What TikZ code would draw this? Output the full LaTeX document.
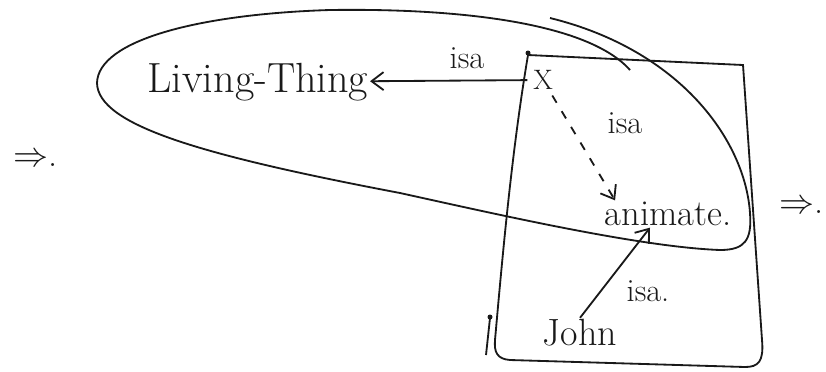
\documentclass[tikz,border=0pt]{standalone}
\usepackage{xcolor}
\usepackage{amsmath}
\usepackage{tikz}
\usetikzlibrary{arrows.meta, positioning}
\definecolor{inkdark}{RGB}{25,25,25}
\tikzset{
  word/.style={font=\fontsize{26}{30}\selectfont, inner sep=1pt, color=inkdark},
  lbl/.style={font=\fontsize{23}{26}\selectfont, inner sep=1pt, color=inkdark},
  arrow/.style={-{Straight Barb[length=3mm, width=4.5mm]}, line width=1.3pt, color=inkdark},
  line/.style={line width=1.3pt, color=inkdark}
}

\begin{document}
\begin{tikzpicture}[x=0.025cm, y=-0.025cm]
    \useasboundingbox (0,0) rectangle (826,371);
    % Loop round Living-Thing and animate
    \draw[line] (630,70) .. controls (590,25) and (470,8) .. (330,10)
      .. controls (200,14) and (98,40) .. (97,83)
      .. controls (98,125) and (200,155) .. (400,193)
      .. controls (500,215) and (640,247) .. (720,250)
      .. controls (745,250) and (752,240) .. (750,213)
      .. controls (745,140) and (680,50) .. (550,18);
    % Box
    \draw[line] (528,55) -- (743,65) -- (762,340)
      .. controls (764,362) and (758,367) .. (745,367) -- (510,360)
      .. controls (497,359) and (494,352) .. (495,340)
      .. controls (503,250) and (512,150) .. (528,55);
    \fill[inkdark] (528,53) circle (2.5);
    \draw[line] (490,318) -- (486,355);
    \fill[inkdark] (490,317) circle (2.5);
    % Words
    \node[word, font=\fontsize{30}{34}\selectfont] (living) at (258,82) {Living-Thing};
    \node[word, font=\fontsize{20}{24}\selectfont, inner sep=4pt] (x) at (543,80) {X};
    \node[word] (animate) at (668,214) {animate.};
    \node[word, font=\fontsize{27}{30}\selectfont] (john) at (580,333) {John};
    % Links
    \draw[arrow] (x) -- (living);
    \draw[arrow, dash pattern=on 6pt off 7pt] (x) -- ([xshift=0.3cm]animate.north west);
    \draw[arrow] (john.north) -- ([xshift=-0.45cm]animate.south);
    \node[lbl] (isaA) at (467,58) {isa};
    \node[lbl] (isaB) at (625,123) {isa};
    \node[lbl] (isaC) at (648,291) {isa.};
    % Implication marks
    \node[lbl, font=\fontsize{26}{30}\selectfont] (impA) at (36,160) {$\Rightarrow$.};
    \node[lbl, font=\fontsize{26}{30}\selectfont] (impB) at (802,207) {$\Rightarrow$.};
\end{tikzpicture}
\end{document}
